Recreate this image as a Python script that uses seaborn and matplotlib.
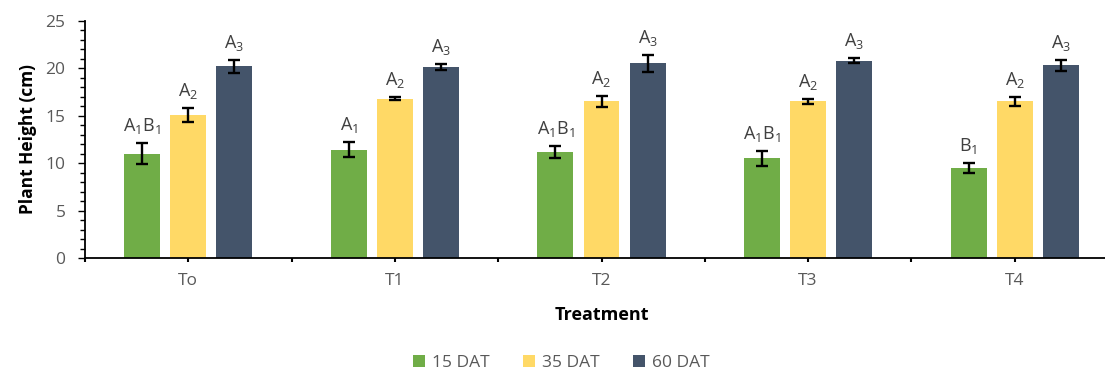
import numpy as np
import pandas as pd
import seaborn as sns
import matplotlib
matplotlib.use("Agg")
import matplotlib.pyplot as plt
from matplotlib.ticker import MultipleLocator

# data
treatments = ["To", "T1", "T2", "T3", "T4"]
stages = ["15 DAT", "35 DAT", "60 DAT"]
dat15 = [11.0, 11.4, 11.2, 10.5, 9.5]
dat35 = [15.1, 16.8, 16.5, 16.5, 16.5]
dat60 = [20.2, 20.1, 20.5, 20.8, 20.3]
err15 = [1.1, 0.8, 0.65, 0.8, 0.5]
err35 = [0.75, 0.15, 0.55, 0.3, 0.5]
err60 = [0.7, 0.3, 0.9, 0.25, 0.55]
lab15 = ["A$_1$B$_1$", "A$_1$", "A$_1$B$_1$", "A$_1$B$_1$", "B$_1$"]
lab35 = ["A$_2$", "A$_2$", "A$_2$", "A$_2$", "A$_2$"]
lab60 = ["A$_3$", "A$_3$", "A$_3$", "A$_3$", "A$_3$"]
colors = ["#70AD47", "#FFD966", "#44546A"]

df = pd.DataFrame({
    "Treatment": treatments * 3,
    "Stage": [s for s in stages for _ in treatments],
    "Height": dat15 + dat35 + dat60,
})
errs = [err15, err35, err60]
labs = [lab15, lab35, lab60]

sns.set_style("white")
plt.rcParams["font.family"] = ["Open Sans", "DejaVu Sans"]
plt.rcParams["mathtext.default"] = "regular"

fig = plt.figure(figsize=(11.05, 3.73), dpi=100)
ax = fig.add_axes([85 / 1105, 115 / 373, 1033 / 1105, 237.3 / 373])

sns.barplot(data=df, x="Treatment", y="Height", hue="Stage", order=treatments,
            hue_order=stages, palette=colors, saturation=1, width=0.67, gap=0.22,
            errorbar=None, edgecolor="none", ax=ax)

gray = "#595959"
for cont, e, lb in zip(ax.containers, errs, labs):
    xs = [p.get_x() + p.get_width() / 2 for p in cont]
    hs = [p.get_height() for p in cont]
    ax.errorbar(xs, hs, yerr=e, fmt="none", ecolor="black", elinewidth=1.7,
                capsize=4, capthick=1.7)
    for x, h, ee, t in zip(xs, hs, e, lb):
        ax.annotate(t, (x, h + ee), xytext=(0, 5), textcoords="offset points",
                    ha="center", va="bottom", fontsize=13, color="#404040")

ax.set_xlim(-0.5, 4.5)
ax.set_ylim(0, 25)
ax.yaxis.set_major_locator(MultipleLocator(5))
ax.yaxis.set_minor_locator(MultipleLocator(1))
ax.set_xticks(np.arange(-0.5, 5, 1.0), minor=True)
sns.despine(ax=ax)
for s in ["left", "bottom"]:
    ax.spines[s].set_color("black")
    ax.spines[s].set_linewidth(1.3)

ax.tick_params(axis="y", which="major", length=5, width=1, color="black",
               labelsize=12.5, labelcolor=gray, left=True, pad=9)
ax.tick_params(axis="y", which="minor", length=3.5, width=1, color="black", left=True)
ax.tick_params(axis="x", which="both", length=3, width=1.5, color="black",
               labelsize=12.5, labelcolor=gray, bottom=True, pad=8)

ax.set_ylabel("Plant Height (cm)", fontsize=12.5, fontweight="bold", color="black", labelpad=6)
ax.set_xlabel("Treatment", fontsize=13, fontweight="bold", color="black", labelpad=12)

handles, labels = ax.get_legend_handles_labels()
ax.get_legend().remove()
fig.legend(handles, labels, loc="lower center", bbox_to_anchor=(0.508, 0.0), ncol=3,
           frameon=False, fontsize=12.5, labelcolor=gray, handlelength=0.7,
           handleheight=0.7, handletextpad=0.4, columnspacing=1.9,
           borderaxespad=0.0, borderpad=0.1)

fig.savefig("out.png", dpi=100)
